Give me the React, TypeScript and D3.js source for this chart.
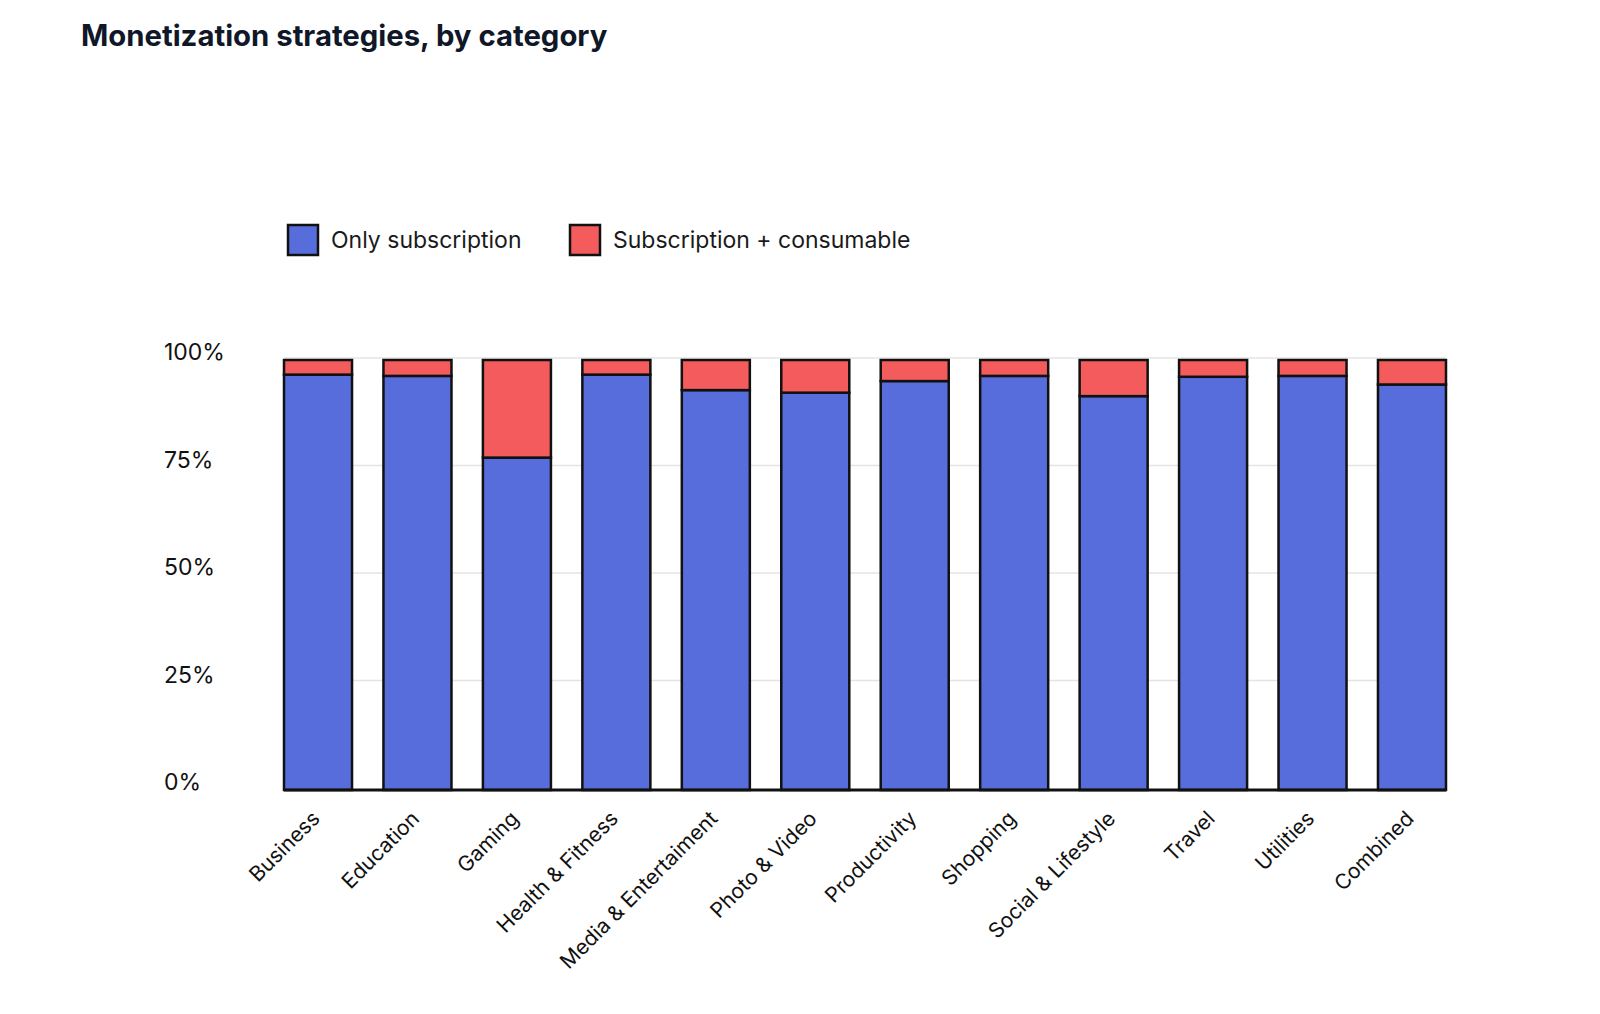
import React, { useEffect, useRef } from 'react'
import * as d3 from 'd3'

const categories = [
  'Business',
  'Education',
  'Gaming',
  'Health & Fitness',
  'Media & Entertaiment',
  'Photo & Video',
  'Productivity',
  'Shopping',
  'Social & Lifestyle',
  'Travel',
  'Utilities',
  'Combined',
]

// share of apps, in %
const onlySubscription = [96.6, 96.3, 77.3, 96.6, 93.0, 92.4, 95.1, 96.3, 91.6, 96.1, 96.3, 94.3]
const subscriptionConsumable = onlySubscription.map((v) => 100 - v)

const yTicks = [0, 25, 50, 75, 100]

const seriesNames = ['Only subscription', 'Subscription + consumable']
const seriesColors = ['#566ddb', '#f35b5c']

const FONT = 'Inter, "Open Sans", sans-serif'

interface Row {
  category: string
  only: number
  combo: number
}

export default function App() {
  const svgRef = useRef<SVGSVGElement>(null)

  useEffect(() => {
    if (!svgRef.current) return
    const svg = d3.select(svgRef.current)
    svg.selectAll('*').remove()

    const data: Row[] = categories.map((c, i) => ({
      category: c,
      only: onlySubscription[i],
      combo: subscriptionConsumable[i],
    }))

    const left = 284
    const right = 1446
    const top = 360
    const bottom = 790

    const x = d3.scaleBand().domain(categories).range([left, right]).paddingInner(0.316).paddingOuter(0)
    const y = d3.scaleLinear().domain([0, 100]).range([bottom, top])

    // title
    svg
      .append('text')
      .attr('x', 81)
      .attr('y', 46)
      .attr('font-family', FONT)
      .attr('font-size', 29.3)
      .attr('font-weight', 700)
      .attr('fill', '#0f1729')
      .text('Monetization strategies, by category')

    // legend
    const legendX = [288, 570]
    const legend = svg
      .selectAll('.legend')
      .data(seriesNames)
      .join('g')
      .attr('class', 'legend')
      .attr('transform', (d, i) => `translate(${legendX[i]},225)`)
    legend
      .append('rect')
      .attr('width', 30)
      .attr('height', 30)
      .attr('fill', (d, i) => seriesColors[i])
      .attr('stroke', '#111')
      .attr('stroke-width', 2.5)
    legend
      .append('text')
      .attr('x', 43)
      .attr('y', 15)
      .attr('dy', '0.35em')
      .attr('font-family', FONT)
      .attr('font-size', 23)
      .attr('fill', '#1a1a1a')
      .text((d) => d)

    // grid
    svg
      .append('g')
      .selectAll('line')
      .data(yTicks.filter((t) => t > 0))
      .join('line')
      .attr('x1', left)
      .attr('x2', right)
      .attr('y1', (d) => y(d) - 2)
      .attr('y2', (d) => y(d) - 2)
      .attr('stroke', '#e4e4e4')
      .attr('stroke-width', 1.5)

    // y labels
    svg
      .append('g')
      .selectAll('text')
      .data(yTicks)
      .join('text')
      .attr('x', 164)
      .attr('y', (d) => y(d) - 8)
      .attr('dy', '0.35em')
      .attr('font-family', FONT)
      .attr('font-size', 23)
      .attr('fill', '#111')
      .text((d) => `${d}%`)

    // bars
    const bars = svg
      .append('g')
      .selectAll('g')
      .data(data)
      .join('g')
      .attr('transform', (d) => `translate(${x(d.category)},0)`)

    bars
      .append('rect')
      .attr('y', (d) => y(d.only))
      .attr('width', x.bandwidth())
      .attr('height', (d) => y(0) - y(d.only))
      .attr('fill', seriesColors[0])
      .attr('stroke', '#111')
      .attr('stroke-width', 2.5)

    bars
      .append('rect')
      .attr('y', (d) => y(d.only + d.combo))
      .attr('width', x.bandwidth())
      .attr('height', (d) => y(d.only) - y(d.only + d.combo))
      .attr('fill', seriesColors[1])
      .attr('stroke', '#111')
      .attr('stroke-width', 2.5)

    // baseline
    svg
      .append('line')
      .attr('x1', left)
      .attr('x2', right)
      .attr('y1', bottom)
      .attr('y2', bottom)
      .attr('stroke', '#111')
      .attr('stroke-width', 3)

    // x labels
    svg
      .append('g')
      .selectAll('text')
      .data(categories)
      .join('text')
      .attr('transform', (d) => `translate(${(x(d) || 0) + x.bandwidth() / 2 + 3},820) rotate(-45)`)
      .attr('text-anchor', 'end')
      .attr('font-family', FONT)
      .attr('font-size', 21)
      .attr('fill', '#111')
      .text((d) => d)
  }, [])

  return (
    <svg
      ref={svgRef}
      width={1600}
      height={1014}
      style={{ position: 'absolute', left: 0, top: 0, background: '#fff' }}
    />
  )
}
